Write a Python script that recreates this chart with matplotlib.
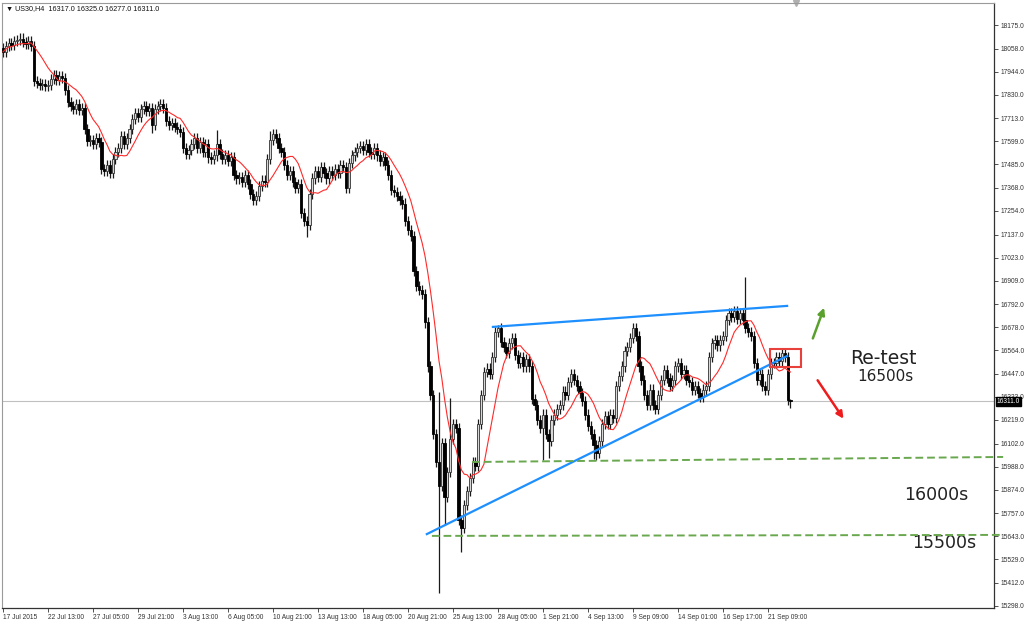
import numpy as np
import pandas as pd
import matplotlib
matplotlib.use('Agg')
import matplotlib.pyplot as plt
from matplotlib import font_manager
from matplotlib.patches import Rectangle
from matplotlib.transforms import blended_transform_factory

# US30 H4 closes (one per 4h bar)
closes = [
    18042, 18070, 18084, 18075, 18094, 18099, 18108, 18089, 18080, 18094,
    18070, 17899, 17890, 17880, 17885, 17871, 17876, 17909, 17928, 17904,
    17923, 17913, 17852, 17795, 17776, 17757, 17785, 17752, 17762, 17662,
    17600, 17605, 17586, 17614, 17595, 17462, 17453, 17481, 17443, 17510,
    17548, 17567, 17624, 17586, 17614, 17662, 17709, 17738, 17719, 17757,
    17776, 17747, 17766, 17681, 17757, 17776, 17785, 17762, 17700, 17681,
    17690, 17671, 17662, 17643, 17567, 17538, 17557, 17586, 17614, 17567,
    17595, 17548, 17586, 17519, 17510, 17529, 17586, 17538, 17510, 17529,
    17500, 17519, 17434, 17415, 17424, 17396, 17434, 17386, 17339, 17310,
    17329, 17377, 17405, 17396, 17510, 17605, 17633, 17614, 17567, 17548,
    17481, 17434, 17453, 17396, 17367, 17386, 17244, 17206, 17187, 17339,
    17415, 17453, 17424, 17472, 17443, 17415, 17453, 17434, 17462, 17443,
    17481, 17472, 17367, 17491, 17529, 17548, 17567, 17576, 17557, 17586,
    17548, 17538, 17567, 17529, 17500, 17519, 17481, 17434, 17358, 17348,
    17329, 17310, 17291, 17206, 17158, 17130, 16959, 16883, 16864, 16845,
    16702, 16484, 16341, 16151, 16009, 15894, 16104, 15837, 15961, 16123,
    16199, 16180, 15723, 15686, 15800, 15866, 15933, 16009, 15990, 16199,
    16341, 16455, 16474, 16446, 16531, 16655, 16674, 16607, 16579, 16550,
    16598, 16626, 16541, 16503, 16531, 16484, 16522, 16484, 16322, 16294,
    16218, 16180, 16246, 16151, 16113, 16218, 16246, 16275, 16294, 16360,
    16341, 16408, 16446, 16417, 16389, 16351, 16313, 16246, 16189, 16151,
    16094, 16056, 16113, 16199, 16237, 16199, 16246, 16227, 16389, 16436,
    16484, 16560, 16579, 16626, 16674, 16636, 16484, 16417, 16341, 16294,
    16370, 16294, 16275, 16341, 16417, 16465, 16427, 16389, 16417, 16484,
    16503, 16446, 16465, 16417, 16408, 16370, 16389, 16351, 16332, 16370,
    16389, 16531, 16598, 16617, 16588, 16617, 16636, 16712, 16750, 16731,
    16759, 16721, 16750, 16712, 16674, 16655, 16636, 16503, 16417, 16446,
    16389, 16370, 16446, 16503, 16500, 16530, 16510, 16550, 16530, 16317,
    16311,
]
first_open = 18060
# wicks that stick out clearly on the chart
extra_high = {6: 18135, 76: 17655, 95: 17650, 155: 16360, 159: 16330,
              176: 16690, 224: 16700, 264: 16927, 280: 16325}
extra_low = {53: 17640, 108: 17125, 155: 15362, 157: 15700, 163: 15565,
             192: 16021, 194: 16030, 210: 16025, 211: 16020, 280: 16277}
wick = 25

price_ticks = [18175, 18058, 17944, 17830, 17713, 17599, 17485, 17368, 17254,
               17137, 17023, 16909, 16792, 16678, 16564, 16447, 16333, 16219,
               16102, 15988, 15874, 15757, 15643, 15529, 15412, 15298]
date_labels = ['17 Jul 2015', '22 Jul 13:00', '27 Jul 05:00', '29 Jul 21:00',
               '3 Aug 13:00', '6 Aug 05:00', '10 Aug 21:00', '13 Aug 13:00',
               '18 Aug 05:00', '20 Aug 21:00', '25 Aug 13:00', '28 Aug 05:00',
               '1 Sep 21:00', '4 Sep 13:00', '9 Sep 09:00', '14 Sep 01:00',
               '16 Sep 17:00', '21 Sep 09:00']
date_step = 16
last_price = 16311.0
header = '\u25bc US30,H4  16317.0 16325.0 16277.0 16311.0'

# drawn trend lines / levels (bar index, price)
upper_line = ([174.2, 278.8], [16680, 16784])
lower_line = ([150.7, 278.8], [15654, 16536])
level_16000 = ([166.8, 355.6], [16011, 16036])
level_15500 = ([152.5, 355.6], [15645, 15650])

# ---------------------------------------------------------------
names = {f.name for f in font_manager.fontManager.ttflist}
if 'Liberation Sans Narrow' in names:
    small = ['Liberation Sans Narrow', 'DejaVu Sans']
    fs = 5.6
else:
    small = ['Liberation Sans', 'DejaVu Sans']
    fs = 4.8

close = np.array(closes, dtype=float)
n = len(close)
idx = np.arange(n)
opens = np.r_[first_open, close[:-1]]
highs = np.maximum(opens, close) + wick
lows = np.minimum(opens, close) - wick
for k, v in extra_high.items():
    highs[k] = v
for k, v in extra_low.items():
    lows[k] = v
ma = pd.Series(close).rolling(10, min_periods=1).mean()

fig = plt.figure(figsize=(10.24, 6.23), dpi=100)
fig.patch.set_facecolor('white')
ax = fig.add_axes([2 / 1024, 1 - 608 / 623, 992 / 1024, 605 / 623])
ax.set_xlim(-0.356, 352.36)
ax.set_ylim(15288, 18284)

# candles
ax.vlines(idx, lows, highs, color='#1a1a1a', lw=0.9, zorder=2)
up = close >= opens
body = np.maximum(np.abs(close - opens), 4)
bottom = np.minimum(opens, close)
ax.bar(idx[up], body[up], bottom=bottom[up], width=0.8,
       color='#d8d8d8', edgecolor='#333333', lw=0.6, zorder=3)
ax.bar(idx[~up], body[~up], bottom=bottom[~up], width=0.8,
       color='black', edgecolor='black', lw=0.6, zorder=3)

ax.plot(idx, ma, color='#ff2a2a', lw=0.8, zorder=4)
ax.axhline(last_price, color='#c0c0c0', lw=0.8, zorder=1)

# analysis drawings
ax.plot(*upper_line, color='#1e8fff', lw=1.6, zorder=5)
ax.plot(*lower_line, color='#1e8fff', lw=1.6, zorder=5)
ax.plot(*level_16000, color='#6aa84f', lw=1.4, ls=(0, (4, 2)),
        zorder=5, clip_on=False)
ax.plot(*level_15500, color='#6aa84f', lw=1.4, ls=(0, (4, 2)),
        zorder=5, clip_on=False)
ax.add_patch(Rectangle((272.7, 16481), 11, 90, fill=False,
                       edgecolor='#e8413c', lw=1.5, zorder=6))
ax.annotate('', xy=(292.3, 16788), xytext=(287.6, 16610),
            arrowprops=dict(arrowstyle='-|>', color='#5aa02c', lw=1.8,
                            mutation_scale=10))
ax.annotate('', xy=(299.4, 16214), xytext=(289.1, 16427),
            arrowprops=dict(arrowstyle='-|>', color='#ee1c1c', lw=1.8,
                            mutation_scale=10))
ax.text(313.2, 16526, 'Re-test', fontsize=13.5, ha='center', va='center',
        color='#222222')
ax.text(313.6, 16432, '16500s', fontsize=11, ha='center', va='center',
        color='#222222')
ax.text(331.7, 15847, '16000s', fontsize=12.5, ha='center', va='center',
        color='#222222')
ax.text(334.6, 15610, '15500s', fontsize=12.5, ha='center', va='center',
        color='#222222')

# axes styling, MT4 look
for s in ['top', 'left']:
    ax.spines[s].set_color('#9a9a9a')
    ax.spines[s].set_linewidth(0.8)
for s in ['right', 'bottom']:
    ax.spines[s].set_color('#333333')
    ax.spines[s].set_linewidth(0.9)

ax.yaxis.tick_right()
ax.set_yticks(price_ticks)
ax.set_yticklabels(['%.1f' % p for p in price_ticks], family=small,
                   fontsize=fs, color='#222222')
ax.tick_params(axis='y', direction='out', length=3, width=0.6, pad=1.5,
               colors='#333333')

ax.set_xticks(np.arange(len(date_labels)) * date_step)
ax.set_xticklabels(date_labels, family=small, fontsize=fs, ha='left',
                   color='#222222')
ax.tick_params(axis='x', direction='out', length=3, width=0.6, pad=1.5,
               colors='#333333')

# current price marker on the scale
tr = blended_transform_factory(ax.transAxes, ax.transData)
ax.text(1.003, last_price, '%.1f' % last_price, transform=tr, family=small,
        fontsize=fs, color='white', ha='left', va='center', zorder=10,
        clip_on=False,
        bbox=dict(boxstyle='square,pad=0.15', fc='black', ec='black'))

fig.text(6 / 1024, 1 - 9 / 623, header, family=small, fontsize=fs + 0.4,
         color='#111111', ha='left', va='center')
ax.plot([282], [1.0], marker='v', color='#b0b0b0', ms=5,
        transform=blended_transform_factory(ax.transData, ax.transAxes),
        clip_on=False)

fig.savefig('out.png', dpi=100)
